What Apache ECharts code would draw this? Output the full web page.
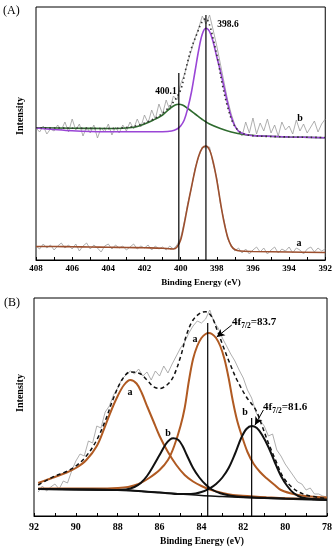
<!DOCTYPE html>
<html><head><meta charset="utf-8">
<script src="https://cdn.jsdelivr.net/npm/echarts@6/dist/echarts.min.js"></script>
<style>html,body{margin:0;padding:0;background:#fff}#c{width:335px;height:550px}</style>
</head><body><div id="c"></div>
<script>
// ---------- Panel A (N 1s) ----------
const xTicksA = [408, 406, 404, 402, 400, 398, 396, 394, 392];
const rawAStart = 408, rawStep = 0.2;
const rawA = [14,11,16,12,15,10,14,17,12,15,11,16,9,14,17,11,15,12,8,14,16,11,15,12,14,10,13,16,11,14,12,15,10,14,11,
  13,10,14,11,15,22,38,57,72,92,103,113,112,113,96,82,56,40,21,15,9,12,
  7,11,6,10,13,8,12,6,10,13,7,11,9,13,7,12,10,6,11,13,8,12,9,11];
const rawB = [132,128,134,126,131,129,135,130,138,128,141,130,136,124,133,127,135,122,132,128,136,125,133,127,135,129,138,131,141,133,
  145,137,150,141,156,146,160,150,164,160,176,185,198,210,222,232,244,236,245,230,214,196,178,160,146,135,128,124,138,127,
  142,126,137,129,141,127,135,124,138,130,134,126,140,129,136,127,133,139,128,136,141];
const fitA_a = [[408,13.5],[407,13.5],[406,13.2],[405,13],[404,12.8],[403,12.5],[402,12.2],[401,11.8],[400.6,11.2],[400.4,11],[400.2,13],[400.0,20],[399.8,36],[399.6,55],[399.4,73],[399.2,90],[399.0,104],[398.8,112],[398.6,114],[398.4,110],[398.2,98],[398.0,80],[397.8,58],[397.6,38],[397.4,23],[397.2,14],[397.0,10.5],[396.7,9],[396.0,8.5],[394,8],[392,7.5]];
const fitA_green = [[408,132.3],[406,131.8],[404,131.5],[403,132],[402.5,133],[402,136],[401.5,140],[401,145],[400.6,151.5],[400.3,155],[400.1,155.7],[399.9,155],[399.6,151.5],[399.2,146],[398.8,140.5],[398.4,136],[397.8,131.5],[397.2,128],[396.5,125.5],[395.5,124],[394,123],[392,122.3]];
const fitA_purple = [[408,132],[407,130.5],[406,129.2],[405,128.5],[403,128.2],[401,128.3],[400.5,129],[400.2,131],[400,134],[399.8,140],[399.6,152],[399.4,168],[399.2,189],[399.0,210],[398.8,226],[398.6,231.7],[398.4,228.5],[398.2,218],[398,203],[397.8,189],[397.6,173],[397.4,157],[397.2,143],[397,134],[396.8,129],[396.6,126.8],[396.2,124.8],[395.5,124],[394,123],[392,122.3]];
const envA = [[408,132.3],[404,131.5],[403,132.5],[402.3,135],[401.6,140],[401.2,144],[400.8,150],[400.4,158],[400.0,170],[399.7,192],[399.4,212],[399.1,226],[398.85,237],[398.6,241.5],[398.4,235],[398.2,221],[397.95,201],[397.7,176],[397.4,153],[397.1,137],[396.75,128.5],[396.3,125],[395,123.5],[392,122.5]];
const peakLinesA = [[400.1, 187], [398.6, 245]];

// ---------- Panel B (Pt 4f) ----------
const xTicksB = [92, 90, 88, 86, 84, 82, 80, 78];
const rawBStart = 91.8;
const rawPt = [24,30,25,29,32,27,35,33,45,55,
  62,60,75,73,90,88,104,110,121,128,
  137,141,145,142,147,140,144,136,145,140,
  150,143,152,160,168,174,183,190,195,193,
  197,206,194,188,178,170,162,155,146,138,
  126,118,104,96,90,80,82,66,60,52,
  46,40,34,32,26,28,22,22,20,19];
const baseB = [[91.8,27],[90,26.5],[88,26],[87,25],[86,23.5],[85,22],[84,20.5],[83,19.5],[82,18.5],[80,17],[78,16]];
const fitB_b1 = [[91.8,27],[89,26.3],[88,26],[87.6,26.5],[87.2,29],[86.9,33],[86.6,40],[86.3,50],[86.0,61],[85.7,72],[85.5,76.5],[85.35,77.7],[85.1,76],[84.9,70],[84.7,61],[84.4,48],[84.1,38.5],[83.8,31.5],[83.5,26.5],[83.1,22.7],[82.6,20.3],[82,19],[80,17.5],[78,16.5]];
const fitB_b2 = [[91.8,27],[88,26],[86,23.5],[85,22],[84.5,22],[84,24],[83.6,27.7],[83.3,32],[83,38.5],[82.7,48],[82.4,62],[82.1,78],[81.85,87],[81.6,90],[81.35,88],[81.1,81],[80.8,69],[80.5,54],[80.2,40],[79.9,30],[79.6,23],[79.2,18.5],[78.6,16.7],[78,16]];
const fitB_a1 = [[91.8,33],[91.4,36],[91,39],[90.5,43],[90,48],[89.5,56],[89,70],[88.6,90],[88.3,106],[88.0,120],[87.7,131],[87.4,136],[87.1,132.5],[86.85,123],[86.6,110],[86.3,95],[86.0,80],[85.6,64],[85.2,51],[84.8,41],[84.4,34.5],[84,30],[83.6,26.5],[83,23],[82.5,21],[81.5,19.5],[80.9,18.7],[80,17.7],[78,16.7]];
const fitB_a2 = [[91.8,27.5],[89,27.5],[88,28],[87.5,29],[87,32],[86.5,38],[86,46],[85.6,56],[85.3,70],[85.0,90],[84.8,108],[84.6,135],[84.4,157],[84.2,170],[84.0,178],[83.8,182],[83.65,183],[83.5,182],[83.3,178],[83.1,170],[82.9,157],[82.7,138],[82.5,115],[82.3,96],[82.1,82],[81.8,64],[81.5,52],[81.2,44],[80.9,38],[80.5,31],[80.2,26],[79.5,21.5],[78.8,19.5],[78,18.5]];
const envB = [[91.8,31],[91,40],[90.5,44],[90,50],[89.5,60],[89,76],[88.6,95],[88.2,118],[87.8,136],[87.4,144],[86.95,142.5],[86.6,136],[86.3,129.5],[86.0,127.5],[85.65,131],[85.35,139],[85.0,159],[84.7,182],[84.4,196],[84.05,203],[83.8,204.3],[83.5,199],[83.25,186],[82.95,169],[82.65,153],[82.3,136],[81.85,119],[81.4,106],[81.1,90],[80.8,73],[80.4,53],[80.1,39],[79.6,27.5],[79.0,21],[78,17.5]];
const peakLinesB = [[83.7, 193], [81.6, 98]];
const arrowsB = [[[82.55,191],[83.27,179]], [[81.04,106],[81.44,91]]];

// ---------- build ----------
function grid(start, vals){ return vals.map((v,i)=>[+(start - rawStep*i).toFixed(2), v]); }
const SERIF = 'Liberation Serif';
function xAx(gi, min, max, fs, margin){
  return {type:'value', gridIndex:gi, min:min, max:max, interval:2, inverse:true,
    axisLine:{show:true, onZero:false, lineStyle:{color:'#000', width:1}},
    axisTick:{show:true, inside:true, length:3, lineStyle:{color:'#000'}},
    minorTick:{show:true, splitNumber:2, length:3, lineStyle:{color:'#000'}},
    splitLine:{show:false},
    axisLabel:{color:'#000', fontFamily:SERIF, fontWeight:'bold', fontSize:fs, margin:margin}};
}
function yAx(gi, max){
  return {type:'value', gridIndex:gi, min:0, max:max, axisLine:{show:false}, axisTick:{show:false},
    axisLabel:{show:false}, splitLine:{show:false}};
}
function ln(gi, data, color, width, opts){
  return Object.assign({type:'line', xAxisIndex:gi, yAxisIndex:gi, data:data, showSymbol:false, symbol:'none',
    smooth:0.35, silent:true, lineStyle:{color:color, width:width}}, opts||{});
}
function vline(gi, p){ return ln(gi, [[p[0],0],[p[0],p[1]]], '#000', 1.2, {smooth:false}); }

const series = [
  ln(0, grid(rawAStart, rawA), '#9a9a9a', 0.8, {smooth:false}),
  ln(0, grid(rawAStart, rawB), '#9a9a9a', 0.8, {smooth:false}),
  ln(0, fitA_a, '#9c4f2e', 1.6),
  ln(0, fitA_green, '#2f6b2f', 1.6),
  ln(0, fitA_purple, '#9a46d6', 1.6),
  ln(0, envA, '#333', 1.6, {lineStyle:{color:'#333', width:1.6, type:[1.5,3]}}),
  vline(0, peakLinesA[0]), vline(0, peakLinesA[1]),
  ln(1, grid(rawBStart, rawPt), '#9a9a9a', 0.8, {smooth:false}),
  ln(1, baseB, '#111', 1.6),
  ln(1, fitB_a1, '#b05a22', 2),
  ln(1, fitB_a2, '#b05a22', 2),
  ln(1, fitB_b1, '#111', 2),
  ln(1, fitB_b2, '#111', 2),
  ln(1, envB, '#111', 1.5, {lineStyle:{color:'#111', width:1.5, type:[4,3]}}),
  vline(1, peakLinesB[0]), vline(1, peakLinesB[1]),
  {type:'line', xAxisIndex:1, yAxisIndex:1, data:[], silent:true,
   markLine:{silent:true, symbol:['none','arrow'], symbolSize:[6,8], label:{show:false},
     lineStyle:{color:'#000', width:1, type:'solid'},
     data: arrowsB.map(a=>[{coord:a[0]},{coord:a[1]}])}}
];

function txt(x, y, s, size, opts){
  return Object.assign({type:'text', x:x, y:y, silent:true,
    style:{text:s, font:'bold '+size+'px '+SERIF, fill:'#000', align:'center', verticalAlign:'middle'}}, opts||{});
}
function sub(x, y, main, subs, tail){
  return {type:'text', x:x, y:y, silent:true, style:{
    text:'{m|'+main+'}{s|'+subs+'}{m|'+tail+'}', align:'left', verticalAlign:'middle',
    rich:{m:{font:'bold 11px '+SERIF, fill:'#000', lineHeight:16, verticalAlign:'middle'},
          s:{font:'bold 7.5px '+SERIF, fill:'#000', lineHeight:8, verticalAlign:'bottom'}}}};
}
const graphics = [
  {type:'text', x:3, y:11, silent:true, style:{text:'(A)', font:'12px '+SERIF, fill:'#000', verticalAlign:'middle'}},
  {type:'text', x:4, y:303, silent:true, style:{text:'(B)', font:'12px '+SERIF, fill:'#000', verticalAlign:'middle'}},
  txt(20, 116, 'Intensity', 10, {rotation:Math.PI/2}),
  txt(20, 393, 'Intensity', 10, {rotation:Math.PI/2}),
  txt(201, 283, 'Binding Energy (eV)', 9),
  txt(202, 542, 'Binding Energy (eV)', 9.5),
  txt(228, 25, '398.6', 9.5),
  txt(166, 92, '400.1', 9.5),
  txt(300, 118, 'b', 10),
  txt(299, 243, 'a', 10),
  txt(130, 392, 'a', 10),
  txt(195, 339, 'a', 10),
  txt(168, 433, 'b', 10),
  txt(245, 412, 'b', 10),
  sub(232, 322, '4f', '7/2', '=83.7'),
  sub(263, 407, '4f', '7/2', '=81.6')
];

const chart = echarts.init(document.getElementById('c'), null, {renderer:'canvas'});
chart.setOption({
  animation:false,
  backgroundColor:'#fff',
  grid:[
    {left:36, top:7, width:290, height:253, show:true, borderColor:'#000', borderWidth:1, backgroundColor:'transparent'},
    {left:34, top:298, width:293, height:218, show:true, borderColor:'#000', borderWidth:1, backgroundColor:'transparent'}
  ],
  xAxis:[xAx(0, xTicksA[xTicksA.length-1], xTicksA[0], 9, 4), xAx(1, xTicksB[xTicksB.length-1], xTicksB[0], 10, 6)],
  yAxis:[yAx(0, 253), yAx(1, 218)],
  series: series,
  graphic: graphics
});
</script></body></html>
